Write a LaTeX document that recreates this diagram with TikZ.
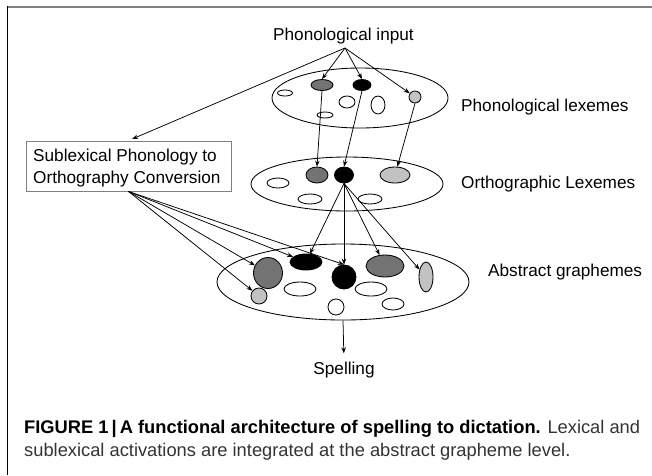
\documentclass[tikz,border=0pt]{standalone}
\usepackage{fontspec}
\setmainfont{Liberation Sans}
\usetikzlibrary{shapes.geometric,arrows.meta}
\definecolor{dg}{gray}{0.45}
\definecolor{lg}{gray}{0.76}
\definecolor{framegray}{gray}{0.5}
\definecolor{capgray}{gray}{0.2}
\tikzset{
  blob/.style={ellipse, draw, line width=0.85pt, inner sep=0pt},
  layer/.style={ellipse, draw, line width=0.85pt, inner sep=0pt},
  arr/.style={line width=0.75pt, -{Stealth[length=6pt,width=4.5pt]}},
  lbl/.style={inner sep=0pt, anchor=base west, font=\fontsize{17.2}{20}\selectfont},
  capline/.style={inner sep=0pt, anchor=base west, font=\fontsize{18.3}{22}\selectfont}
}
\begin{document}
\begin{tikzpicture}[x=1pt,y=-1pt]
\useasboundingbox (0,0) rectangle (652,475);
% frame
\draw[framegray, line width=2pt] (7,6.5) -- (652,6.5);
\draw[black, line width=1.5pt] (7.5,5.5) -- (7.5,475);

% labels
\node[lbl] (pin) at (273,40) {Phonological input};
\coordinate (pa) at (345,48);
\node[lbl] (lplex) at (461,111.5) {Phonological lexemes};
\node[lbl] (lorth) at (461,188) {Orthographic Lexemes};
\node[lbl] (labs) at (488,276) {Abstract graphemes};
\node[lbl, anchor=base] (sp) at (344,374) {Spelling};

% box
\node[draw=framegray, line width=0.9pt, minimum width=205pt, minimum height=50pt, inner sep=0pt] (box) at (128.5,166) {};
\node[lbl] (bt1) at (33,161.7) {Sublexical Phonology to};
\node[lbl] (bt2) at (33,183.3) {Orthography Conversion};

% phonological lexemes
\node[layer, minimum width=176pt, minimum height=60pt] (pl) at (360,98) {};
\node[blob, fill=dg, minimum width=22pt, minimum height=11pt] (p1) at (322,85) {};
\node[blob, fill=black, minimum width=18pt, minimum height=11pt] (p2) at (362,85) {};
\node[blob, fill=lg, minimum width=12pt, minimum height=12pt] (p3) at (415,97) {};
\node[blob, minimum width=15pt, minimum height=6pt] (p4) at (285,93) {};
\node[blob, minimum width=16pt, minimum height=12pt] (p5) at (347,102) {};
\node[blob, minimum width=14pt, minimum height=18pt] (p6) at (378,105) {};
\node[blob, minimum width=16pt, minimum height=6pt] (p7) at (325,115) {};

% orthographic lexemes
\node[layer, minimum width=192pt, minimum height=54pt] (ol) at (347,184) {};
\node[blob, fill=dg, minimum width=22pt, minimum height=16pt] (o1) at (317,175) {};
\node[blob, fill=black, minimum width=19pt, minimum height=16pt] (o2) at (344,175) {};
\node[blob, fill=lg, minimum width=30pt, minimum height=16pt] (o3) at (395,175) {};
\node[blob, minimum width=22pt, minimum height=10pt] (o4) at (278,183) {};
\node[blob, minimum width=24pt, minimum height=10pt] (o5) at (310,199) {};
\node[blob, minimum width=24pt, minimum height=10pt] (o6) at (370,199) {};

% abstract graphemes
\node[layer, minimum width=252pt, minimum height=76pt] (ag) at (343,282) {};
\node[blob, fill=dg, minimum width=29pt, minimum height=31pt] (a1) at (268,273) {};
\node[blob, fill=black, minimum width=32pt, minimum height=16pt] (a2) at (306,262) {};
\node[blob, fill=black, minimum width=24pt, minimum height=24pt] (a3) at (344,277) {};
\node[blob, fill=dg, minimum width=38pt, minimum height=22pt] (a4) at (385,266) {};
\node[blob, fill=lg, minimum width=14pt, minimum height=30pt] (a5) at (426,277) {};
\node[blob, fill=lg, minimum width=16pt, minimum height=16pt] (a6) at (259,296) {};
\node[blob, minimum width=32pt, minimum height=14pt] (a7) at (300,289) {};
\node[blob, minimum width=32pt, minimum height=14pt] (a8) at (371,289) {};
\node[blob, minimum width=16pt, minimum height=16pt] (a9) at (336,307) {};
\node[blob, minimum width=22pt, minimum height=12pt] (a10) at (393,304) {};

% arrows from phonological input
\draw[arr] (pa) -- (p1.north);
\draw[arr] (pa) -- (p2.north);
\draw[arr] (pa) -- (p3);
\draw[arr, shorten >=4pt] (pa) -- (box.north);

% phonological -> orthographic
\draw[arr] (p1.south) -- (o1.north);
\draw[arr] (p2.south) -- (o2.north);
\draw[arr] (p3.south) -- (o3);

% orthographic -> abstract
\draw[arr] (o2.south) -- (a2);
\draw[arr] (o2.south) -- (a3.north);
\draw[arr] (o2.south) -- (a4);
\draw[arr] (o2.south) -- (a5);

% sublexical -> abstract
\draw[arr] (box.south) -- (a6);
\draw[arr] (box.south) -- (a1);
\draw[arr] (box.south) -- (a2);
\draw[arr] (box.south) -- (a3.north);

% spelling
\draw[arr, shorten >=8pt] (ag.south) -- (sp.north);

% caption
\node[capline] (cap1) at (24,433) {{\bfseries FIGURE 1\,|\,A functional architecture of spelling to dictation.} {\color{capgray}Lexical and}};
\node[capline] (cap2) at (24,456) {{\color{capgray}sublexical activations are integrated at the abstract grapheme level.}};
\end{tikzpicture}
\end{document}
